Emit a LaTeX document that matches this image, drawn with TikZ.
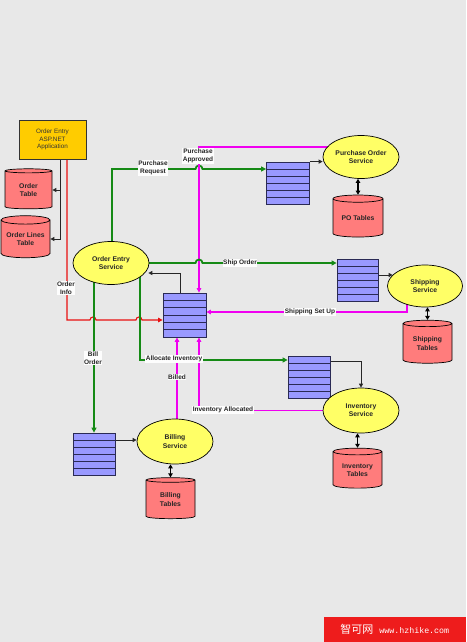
\documentclass[tikz,border=0pt]{standalone}
\usepackage{fontspec}
\setmainfont{Liberation Sans}
\newfontfamily\cjkfont{Noto Sans CJK SC}
\newfontfamily\monofont{Liberation Mono}
\usetikzlibrary{shapes.geometric,arrows.meta,calc}
\definecolor{bgc}{HTML}{E8E8E8}
\definecolor{appfill}{HTML}{FFCC00}
\definecolor{ellfill}{HTML}{FFFF66}
\definecolor{dbfill}{HTML}{FF7C7C}
\definecolor{qfill}{HTML}{9999FF}
\definecolor{qborder}{HTML}{2A2A55}
\definecolor{grn}{HTML}{158A15}
\definecolor{mag}{HTML}{F000F0}
\definecolor{redl}{HTML}{E81010}
\definecolor{wmred}{HTML}{EE1C1C}
\pgfdeclarelayer{bglayer}
\pgfdeclarelayer{edges}
\pgfsetlayers{bglayer,edges,main}
\tikzset{
  txt/.style={font=\fontsize{6.8}{8.2}\selectfont\bfseries, align=center, text=black!85},
  svc/.style={ellipse, draw=black, line width=0.7pt, fill=ellfill, inner sep=0pt, txt},
  db/.style={cylinder, shape border rotate=90, aspect=0.22, draw=black, line width=0.7pt, fill=dbfill, inner sep=0pt, txt},
  queue/.style={draw=qborder, fill=qfill, line width=0.8pt, inner sep=0pt,
    minimum width=42pt, minimum height=42pt,
    path picture={\foreach \i in {1,...,5}{
      \draw[qborder, line width=0.8pt]
        ($(path picture bounding box.north west)!\i/6!(path picture bounding box.south west)$) --
        ($(path picture bounding box.north east)!\i/6!(path picture bounding box.south east)$);}}},
  lbl/.style={font=\fontsize{6.5}{7.8}\selectfont\bfseries, align=center, fill=white!92!bgc, inner sep=0.6pt, text=black!85},
  gline/.style={draw=grn, line width=1.8pt, -{Triangle[length=5pt,width=5pt]}},
  mline/.style={draw=mag, line width=1.2pt, -{Triangle[length=4.5pt,width=4.5pt]}},
  rline/.style={draw=redl, line width=1.1pt, -{Triangle[length=4.5pt,width=4.5pt]}},
  kline/.style={draw=black!85, line width=1pt, -{Triangle[length=4pt,width=4pt]}},
  dline/.style={draw=black, line width=1.1pt, {Triangle[length=4pt,width=4.5pt]}-{Triangle[length=4pt,width=4.5pt]}},
}
\begin{document}
\begin{tikzpicture}[x=1pt,y=-1pt]
\useasboundingbox (0,0) rectangle (466,642);
\begin{pgfonlayer}{bglayer}
\fill[bgc] (0,0) rectangle (466,642);
\end{pgfonlayer}

% nodes
\node[draw=black!80, line width=0.8pt, fill=appfill, minimum width=67pt, minimum height=39pt, inner sep=0pt,
  align=center, font=\fontsize{6.3}{7.6}\selectfont, text=black!80] (app) at (52.5,139.5) {Order Entry\\ASP.NET\\Application};
\node[db, minimum width=47pt, minimum height=40pt] (ot) at (28.5,190) {Order\\Table};
\node[db, minimum width=49pt, minimum height=42pt] (olt) at (25.5,239) {Order Lines\\Table};
\node[svc, minimum width=76pt, minimum height=43pt] (oes) at (111,263) {Order Entry\\Service};
\node[queue, minimum width=43pt] (poq) at (288,183) {};
\node[svc, minimum width=76pt, minimum height=43pt] (pos) at (361,157) {Purchase Order\\Service};
\node[db, minimum width=50pt, minimum height=42pt] (pot) at (358,218) {PO Tables};
\node[queue, minimum width=41pt] (ssq) at (357.5,280) {};
\node[svc, minimum width=75pt, minimum height=42pt] (ss) at (425,286) {Shipping\\Service};
\node[db, minimum width=49pt, minimum height=43pt] (st) at (427.5,343.5) {Shipping\\Tables};
\node[queue, minimum width=43pt, minimum height=44pt] (cq) at (184.5,315) {};
\node[queue] (iq) at (309,377) {};
\node[svc, minimum width=76pt, minimum height=45pt] (is) at (361,410.5) {Inventory\\Service};
\node[db, minimum width=49pt, minimum height=40pt] (it) at (357.5,470) {Inventory\\Tables};
\node[queue] (bq) at (94,454) {};
\node[svc, minimum width=76pt, minimum height=45pt] (bs) at (175,441.5) {Billing\\Service};
\node[db, minimum width=49pt, minimum height=41pt] (bt) at (170.5,499.5) {Billing\\Tables};

\node[fill=wmred, minimum width=142pt, minimum height=25pt, inner sep=0pt, anchor=south east, text=white] (wm) at (466,642)
  {{\cjkfont\fontsize{11}{12}\selectfont 智可网}\hspace{6pt}{\monofont\fontsize{8.3}{10}\selectfont www.hzhike.com}};

% connectors
\begin{pgfonlayer}{edges}
\draw[kline] ([xshift=7.5pt]app.south) |- (ot.east);
\draw[kline] ([xshift=7.5pt]app.south) |- (olt.east);
\draw[rline] ([xshift=14.5pt]app.south) -- (67,320) -- (90,320) arc[start angle=180,end angle=360,radius=3]
  -- (136,320) arc[start angle=180,end angle=360,radius=3] -- ([yshift=-5pt]cq.west);
\draw[gline] ([xshift=1pt]oes.center) -- (112,169) -- (195.5,169) arc[start angle=180,end angle=360,radius=3.5]
  -- ([yshift=14pt]poq.west);
\draw[mline] ([yshift=10pt]pos.center) -| ([xshift=14.5pt]cq.north);
\draw[kline] (poq.north east) -- (poq.north east -| pos.west);
\draw[gline] (oes.center) -- (195.5,263) arc[start angle=180,end angle=360,radius=3.5] -- ([yshift=17pt]ssq.west);
\draw[kline, shorten >=-5.5pt] ([yshift=5pt]ssq.east) -- ([yshift=5pt]ssq.east -| ss.west);
\draw[mline] ([xshift=-18pt]ss.center) |- ([yshift=3pt]cq.east);
\draw[kline, shorten >=-1pt] ([xshift=-4.5pt]cq.north) |- ([yshift=-10pt]oes.east);
\draw[gline] (bq.north |- oes.center) -- (bq.north);
\draw[gline] ([xshift=29pt]oes.center) |- ([yshift=17pt]iq.west);
\draw[kline] ([yshift=-6pt]iq.north east) -| (is.north);
\draw[mline] (is.west) -| ([xshift=14.5pt]cq.south);
\draw[mline] ([xshift=2pt]bs.center) -- ([xshift=-7.5pt]cq.south);
\draw[kline] ([yshift=14pt]bq.east) -- ([yshift=14pt]bq.east -| bs.west);
\draw[dline] (pot.north |- pos.south) -- (pot.north);
\draw[dline] (st.north |- ss.south) -- (st.north);
\draw[dline] (it.north |- is.south) -- (it.north);
\draw[dline] (bt.north |- bs.south) -- (bt.north);
\end{pgfonlayer}

% labels
\node[lbl] (lOI) at (66,288) {Order\\Info};
\node[lbl] (lPR) at (153,168) {Purchase\\Request};
\node[lbl] (lPA) at (198,156) {Purchase\\Approved};
\node[lbl] (lSO) at (240,263) {Ship Order};
\node[lbl] (lSS) at (310,312) {Shipping Set Up};
\node[lbl] (lBO) at (93,358) {Bill\\Order};
\node[lbl] (lAI) at (174,359) {Allocate Inventory};
\node[lbl] (lB) at (177,377) {Billed};
\node[lbl] (lIA) at (223,410) {Inventory Allocated};
\end{tikzpicture}
\end{document}
